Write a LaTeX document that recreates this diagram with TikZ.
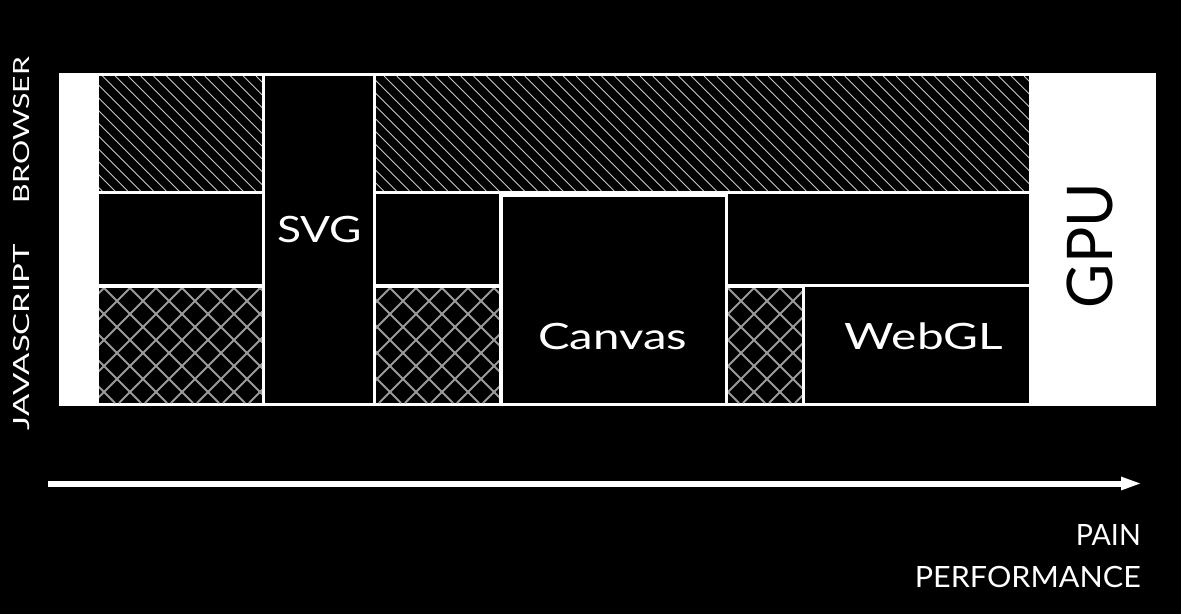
\documentclass[tikz,border=0pt]{standalone}
\usepackage{fontspec}
\setmainfont{Lato}
\usetikzlibrary{arrows.meta}
\definecolor{hatchcol}{HTML}{C8C8C8}
\definecolor{crosscol}{HTML}{9A9A9A}
\tikzset{
  cellfill/.style={fill=black},
  hatchline/.style={draw=hatchcol, line width=0.9pt},
  crossline/.style={draw=crosscol, line width=1.9pt},
  lbl/.style={text=white, inner sep=0pt, anchor=base, font=\fontsize{36.3}{40}\selectfont},
  sidelbl/.style={text=white, inner sep=0pt, rotate=90, anchor=base, font=\fontsize{22.3}{26}\selectfont},
  axislbl/.style={text=white, inner sep=0pt, anchor=base east, font=\fontsize{29.3}{32}\selectfont},
}
\newcommand\wfit[2]{\resizebox{#1pt}{\height}{#2}}
\newcommand\plaincell[4]{\fill[cellfill] (#1,#2) rectangle (#3,#4);}
\newcommand\hatchcell[4]{%
  \begin{scope}
    \clip (#1,#2) rectangle (#3,#4);
    \fill[cellfill] (#1,#2) rectangle (#3,#4);
    \pgfmathsetmacro\hh{#4-#2}
    \pgfmathsetmacro\cs{12.8*floor((#1-\hh)/12.8)-12.8}
    \pgfmathsetmacro\cn{\cs+12.8}
    \foreach \c in {\cs,\cn,...,#3} {
      \draw[hatchline] (\c,#2) -- ++(\hh,\hh);
    }
  \end{scope}}
\newcommand\crosscell[4]{%
  \begin{scope}
    \clip (#1,#2) rectangle (#3,#4);
    \fill[cellfill] (#1,#2) rectangle (#3,#4);
    \pgfmathsetmacro\hh{#4-#2}
    \pgfmathsetmacro\cs{26*floor((#1-\hh)/26)-26}
    \pgfmathsetmacro\cn{\cs+26}
    \pgfmathsetmacro\ce{#3+\hh+26}
    \foreach \c in {\cs,\cn,...,\ce} {
      \draw[crossline] (\c,#2) -- ++(\hh,\hh);
      \draw[crossline] (\c,#2) -- ++(-\hh,\hh);
    }
  \end{scope}}
\begin{document}
\begin{tikzpicture}[x=1pt,y=-1pt]
  \useasboundingbox (0,0) rectangle (1181,614);
  \fill[black] (0,0) rectangle (1181,614);
  % white frame
  \fill[white] (59,73) rectangle (1156,406);
  % left column
  \hatchcell{99}{76}{262}{191}
  \plaincell{99}{194}{262}{284}
  \crosscell{99}{288}{262}{403}
  % SVG column
  \plaincell{265}{76}{373}{403}
  % top browser band
  \hatchcell{376}{76}{1029}{191}
  \plaincell{376}{194}{499}{284}
  \crosscell{376}{288}{499}{403}
  % Canvas
  \plaincell{503}{197}{725}{403}
  % right part
  \plaincell{728}{194}{1029}{284}
  \crosscell{728}{288}{802}{403}
  \plaincell{805}{287}{1029}{403}
  % labels
  \node[lbl] (svg) at (319.5,242) {\wfit{85}{SVG}};
  \node[lbl] (canvas) at (612.5,349) {\wfit{149}{Canvas}};
  \node[lbl] (webgl) at (924,349) {\wfit{158}{WebGL}};
  \node[text=black, inner sep=0pt, rotate=90, anchor=base, font=\fontsize{63}{66}\selectfont] (gpu) at (1112,245.5) {\wfit{125}{GPU}};
  \node[sidelbl] (browser) at (29.5,130) {\wfit{146}{BROWSER}};
  \node[sidelbl] (js) at (29.5,337) {\wfit{186}{JAVASCRIPT}};
  % axis arrow
  \coordinate (arrS) at (48,483.5);
  \coordinate (arrE) at (1142,483.5);
  \draw[white, line width=6pt, -{Triangle[length=21pt,width=12pt]}] (arrS) -- (arrE);
  \node[axislbl] (pain) at (1141,545) {\wfit{65}{PAIN}};
  \node[axislbl] (perf) at (1141,587) {\wfit{226}{PERFORMANCE}};
\end{tikzpicture}
\end{document}
